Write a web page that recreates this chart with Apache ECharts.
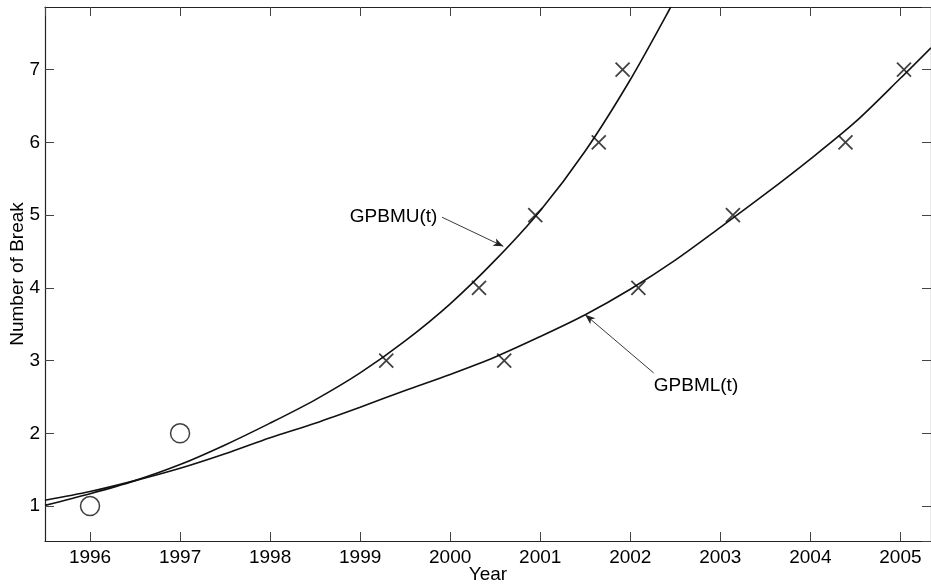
<!DOCTYPE html>
<html>
<head>
<meta charset="utf-8">
<script src="https://cdn.jsdelivr.net/npm/echarts@6/dist/echarts.min.js"></script>
<style>
  html, body { margin: 0; padding: 0; background: #fff; }
  #lineChart { width: 931px; height: 585px; }
</style>
</head>
<body>
<div id="lineChart"></div>
<script>
// fitted curves
const upperYears = [1995.5, 1996, 1996.5, 1997, 1997.5, 1998, 1998.5, 1999, 1999.5, 2000, 2000.5, 2001, 2001.5, 2002, 2002.45]
const upperVals = [1.01, 1.17, 1.35, 1.57, 1.84, 2.14, 2.46, 2.83, 3.27, 3.78, 4.38, 5.06, 5.88, 6.86, 7.86]
const lowerYears = [1995.5, 1996, 1996.5, 1997, 1997.5, 1998, 1998.5, 1999, 1999.5, 2000, 2000.5, 2001, 2001.5, 2002, 2002.5, 2003, 2003.5, 2004, 2004.5, 2005, 2005.34]
const lowerVals = [1.08, 1.2, 1.35, 1.52, 1.72, 1.94, 2.14, 2.36, 2.59, 2.81, 3.05, 3.33, 3.63, 3.98, 4.38, 4.83, 5.29, 5.77, 6.28, 6.88, 7.3]

// observed breaks
const upperObsYears = [1999.29, 2000.32, 2000.945, 2001.65, 2001.915]
const lowerObsYears = [2000.6, 2002.09, 2003.14, 2004.39, 2005.04]
const obsCounts = [3, 4, 5, 6, 7]
const earlyYears = [1996, 1997]
const earlyCounts = [1, 2]

// annotations: [text anchor], [arrow start, arrow tip]
const upperNote = [1999.88, 4.98]
const upperArrow = [[1999.91, 4.97], [2000.59, 4.57]]
const lowerNote = [2002.25, 2.65]
const lowerArrow = [[2002.26, 2.83], [2001.5, 3.63]]

const zip = (xs, ys) => xs.map((x, i) => [x, ys[i]])

const myChart = echarts.init(document.getElementById('lineChart'))
const fontFamily = '"Liberation Sans", Arial, sans-serif'
const ink = '#000'
const cross = 'path://M0,0L10,10M10,0L0,10'

const frameAxis = {
  type: 'value',
  axisLine: { show: true, lineStyle: { color: '#222', width: 1.2 } },
  axisTick: { show: true, inside: true, length: 9, lineStyle: { color: '#444', width: 1 } },
  splitLine: { show: false }
}

const option = {
  animation: false,
  backgroundColor: '#fff',
  grid: { left: 45, right: 0, top: 7, bottom: 44, outerBoundsMode: 'none' },
  xAxis: [
    {
      ...frameAxis,
      min: 1995.5,
      max: 2005.34,
      splitNumber: 9,
      name: 'Year',
      nameLocation: 'middle',
      nameGap: 24,
      nameMoveOverlap: false,
      nameTextStyle: { fontFamily, fontSize: 19, color: ink },
      axisLabel: {
        showMinLabel: false,
        showMaxLabel: false,
        margin: 7,
        fontFamily,
        fontSize: 19,
        color: ink,
        formatter: (v) => String(v)
      }
    },
    { ...frameAxis, position: 'top', min: 1995.5, max: 2005.34, splitNumber: 9, axisLabel: { show: false } }
  ],
  yAxis: [
    {
      ...frameAxis,
      min: 0.52,
      max: 7.86,
      splitNumber: 7,
      name: 'Number of Break',
      nameLocation: 'middle',
      nameGap: 18,
      nameMoveOverlap: false,
      nameTextStyle: { fontFamily, fontSize: 19, color: ink },
      axisLabel: {
        showMinLabel: false,
        showMaxLabel: false,
        margin: 5,
        fontFamily,
        fontSize: 19,
        color: ink
      }
    },
    { ...frameAxis, position: 'right', min: 0.52, max: 7.86, splitNumber: 7, axisLabel: { show: false } }
  ],
  series: [
    {
      name: 'GPBMU(t)',
      type: 'line',
      data: zip(upperYears, upperVals),
      smooth: 0.3,
      showSymbol: false,
      lineStyle: { color: '#111', width: 1.6 },
      markLine: {
        silent: true,
        symbol: ['none', 'arrow'],
        symbolSize: [6, 10],
        label: { show: false },
        lineStyle: { color: '#222', width: 0.9, type: 'solid' },
        data: [[{ coord: upperArrow[0] }, { coord: upperArrow[1] }]]
      },
      markPoint: {
        symbol: 'circle',
        symbolSize: 0,
        label: { show: true, position: 'left', distance: 2, fontFamily, fontSize: 19, color: ink, formatter: 'GPBMU(t)' },
        data: [{ coord: upperNote }]
      }
    },
    {
      name: 'GPBML(t)',
      type: 'line',
      data: zip(lowerYears, lowerVals),
      smooth: 0.3,
      showSymbol: false,
      lineStyle: { color: '#111', width: 1.6 },
      markLine: {
        silent: true,
        symbol: ['none', 'arrow'],
        symbolSize: [6, 10],
        label: { show: false },
        lineStyle: { color: '#222', width: 0.9, type: 'solid' },
        data: [[{ coord: lowerArrow[0] }, { coord: lowerArrow[1] }]]
      },
      markPoint: {
        symbol: 'circle',
        symbolSize: 0,
        label: { show: true, position: 'right', distance: 1, fontFamily, fontSize: 19, color: ink, formatter: 'GPBML(t)' },
        data: [{ coord: lowerNote }]
      }
    },
    {
      type: 'scatter',
      data: zip(upperObsYears, obsCounts),
      symbol: cross,
      symbolSize: 14,
      itemStyle: { color: 'none', borderColor: '#111', borderWidth: 1.8 }
    },
    {
      type: 'scatter',
      data: zip(lowerObsYears, obsCounts),
      symbol: cross,
      symbolSize: 14,
      itemStyle: { color: 'none', borderColor: '#111', borderWidth: 1.8 }
    },
    {
      type: 'scatter',
      data: zip(earlyYears, earlyCounts),
      symbol: 'circle',
      symbolSize: 19,
      itemStyle: { color: 'none', borderColor: '#111', borderWidth: 1.5 }
    }
  ]
}
myChart.setOption(option)

window.addEventListener('resize', function () {
  myChart.resize()
})
</script>
</body>
</html>
